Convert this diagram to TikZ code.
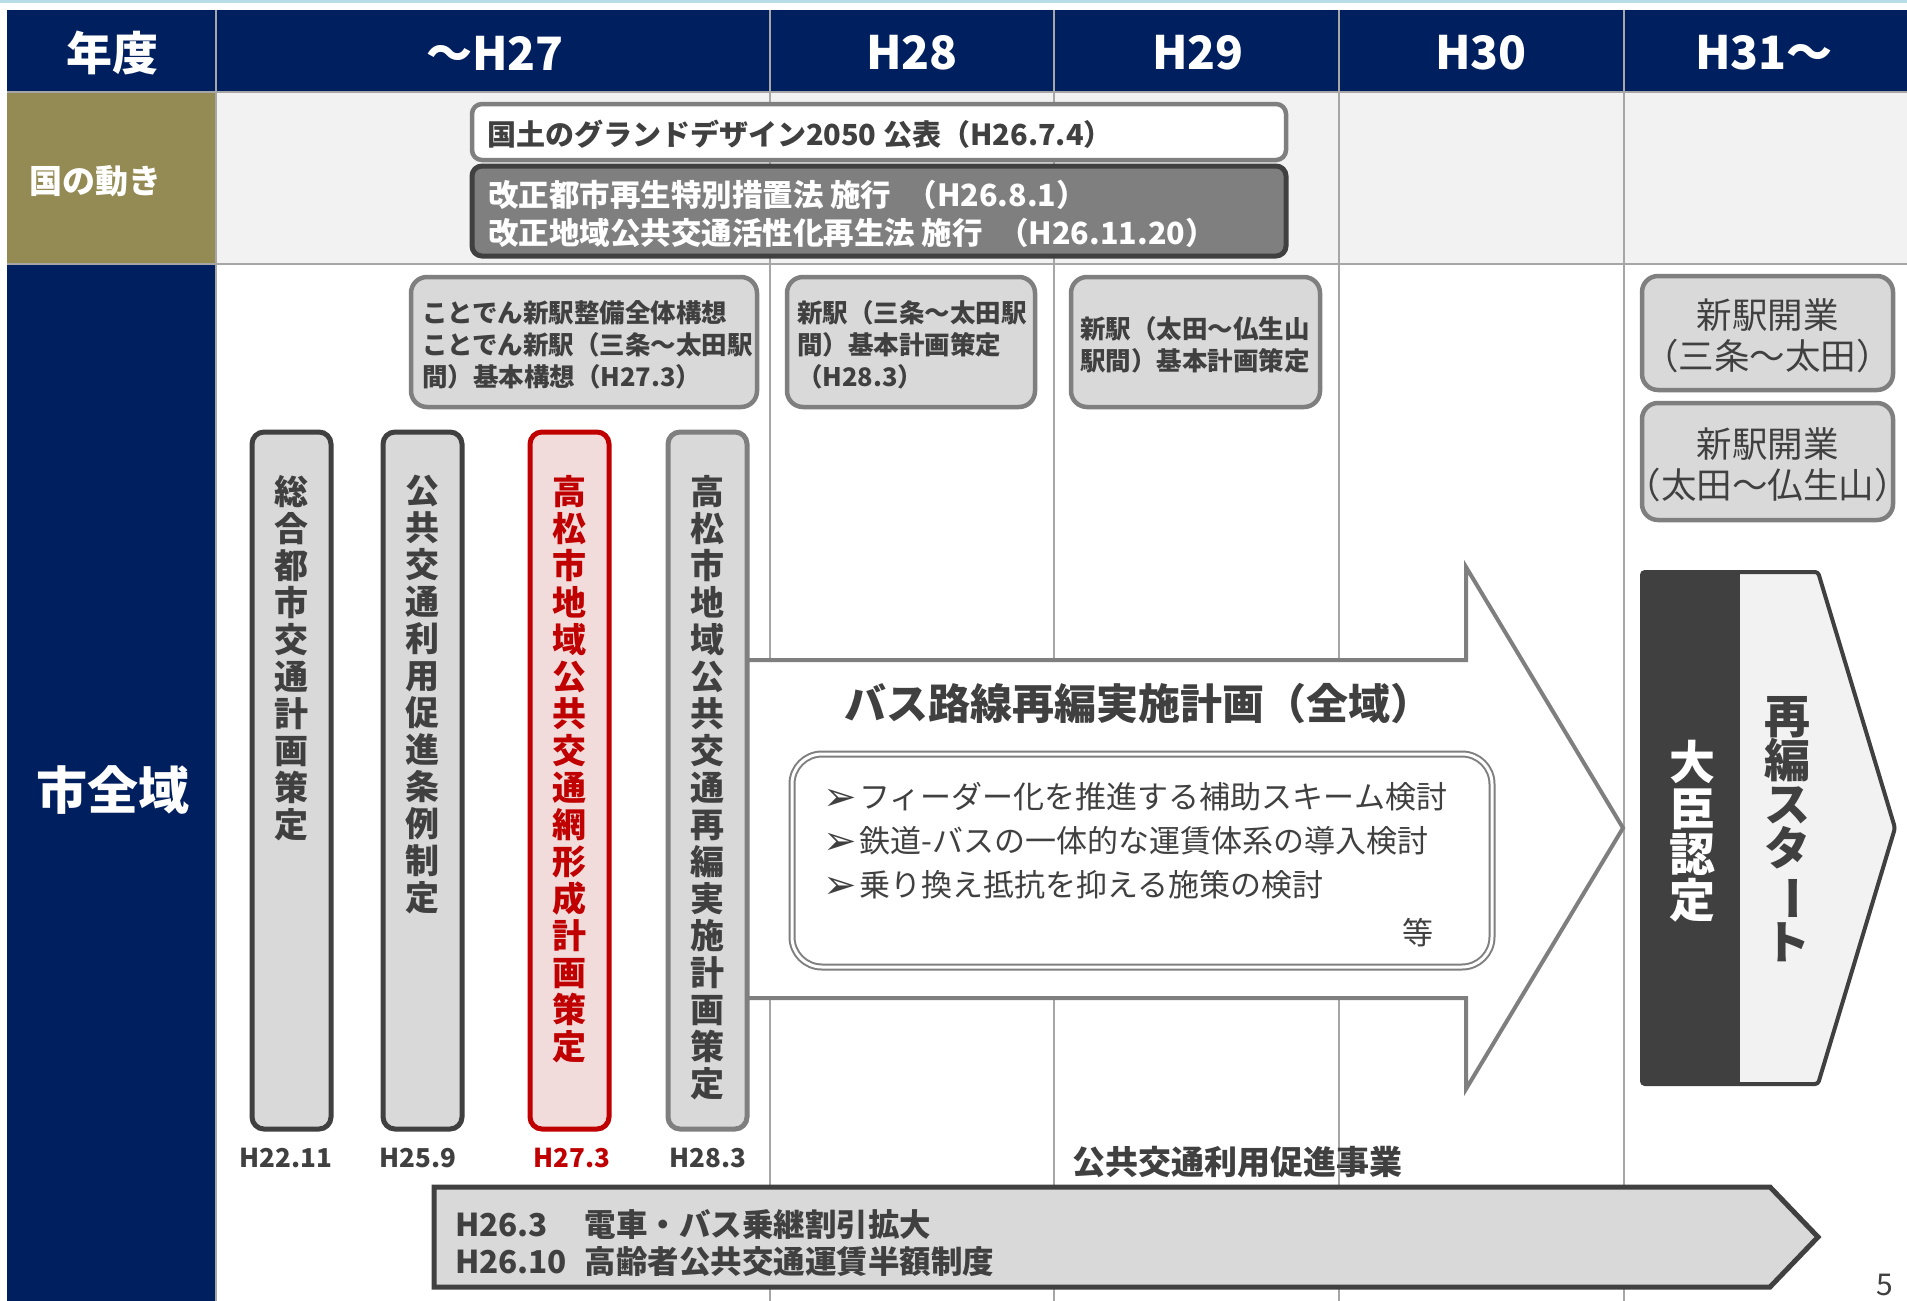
\documentclass[tikz,border=0pt]{standalone}
\usepackage{fontspec}
\setmainfont{Noto Sans CJK JP}
\newfontfamily\bulfont{DejaVu Sans}
\definecolor{navy}{HTML}{001F5E}
\definecolor{olivec}{HTML}{948A54}
\definecolor{bgg}{HTML}{F2F2F2}
\definecolor{gridc}{HTML}{A6A6A6}
\definecolor{boxg}{HTML}{D9D9D9}
\definecolor{midg}{HTML}{7F7F7F}
\definecolor{dk}{HTML}{404040}
\definecolor{redc}{HTML}{C00000}
\definecolor{pinkc}{HTML}{F2DCDB}
\definecolor{topblue}{HTML}{B7DEE8}
\newcommand\myfs[2]{\fontsize{#1}{#2}\selectfont}
\newcommand\mybul{{\bulfont\myfs{40}{44}\raisebox{-2pt}{➢}}\hspace{3pt}}
\tikzset{
 gridline/.style={draw=gridc, line width=2pt},
 hdr/.style={text=white, font=\bfseries\myfs{46}{50}},
 greybox/.style={draw=midg, fill=boxg, line width=4.5pt, rounded corners=16pt},
 boxtext/.style={text=dk, font=\bfseries\myfs{25.5}{32}, align=left},
 bar/.style={fill=boxg, line width=5pt, rounded corners=12pt, minimum width=79pt, minimum height=697pt},
 vtext/.style={font=\bfseries\myfs{34}{37}, align=center, anchor=north},
 blabel/.style={font=\bfseries\myfs{26}{30}, text=dk},
}
\begin{document}
\begin{tikzpicture}[x=1pt,y=-1pt, every node/.style={inner sep=0pt, outer sep=0pt}]
\useasboundingbox (0,0) rectangle (1907,1301);
\fill[white] (0,0) rectangle (1907,1301);
\fill[topblue] (0,0) rectangle (1907,3);
% backgrounds
\fill[navy] (7,10) rectangle (1907,91);
\fill[bgg] (216,93) rectangle (1907,263);
\fill[olivec] (7,93) rectangle (216,263);
\fill[navy] (7,265) rectangle (216,1301);
% grid
\foreach \x in {216,770,1054,1339,1624} \draw[gridline] (\x,10) -- (\x,1301);
\draw[gridline] (7,92) -- (1907,92);
\draw[gridline] (7,264) -- (1907,264);
% header
\node[hdr] (h0) at (112,53) {年度};
\node[hdr] (h1) at (495,53) {～H27};
\node[hdr] (h2) at (912,53) {H28};
\node[hdr] (h3) at (1198,53) {H29};
\node[hdr] (h4) at (1481,53) {H30};
\node[hdr] (h5) at (1764,53) {H31～};
\node[text=white, font=\bfseries\myfs{33}{36}] (kuni) at (95,181) {国の動き};
\node[text=white, font=\bfseries\myfs{51}{54}] (shi) at (113,790) {市全域};
% national boxes
\node[draw=midg, fill=white, line width=4.5pt, rounded corners=10pt, minimum width=814pt, minimum height=56pt] (nb1) at (879,132) {};
\node[text=dk, font=\bfseries\myfs{29}{34}, anchor=west] (nb1t) at (487,134) {国土のグランドデザイン2050 公表（H26.7.4）};
\node[draw=dk, fill=midg, line width=5pt, rounded corners=10pt, minimum width=814pt, minimum height=90pt] (nb2) at (879,211) {};
\node[text=white, font=\bfseries\myfs{30.5}{38}, align=left, anchor=west] (nb2t) at (488,214) {改正都市再生特別措置法 施行\hspace{0.5em}（H26.8.1）\\改正地域公共交通活性化再生法 施行\hspace{0.5em}（H26.11.20）};
% middle boxes
\node[greybox, minimum width=346pt, minimum height=130pt] (m1) at (584,342) {};
\node[boxtext, anchor=west] (m1t) at (422,345) {ことでん新駅整備全体構想\\ことでん新駅（三条～太田駅\\間）基本構想（H27.3）};
\node[greybox, minimum width=248pt, minimum height=130pt] (m2) at (911,342) {};
\node[boxtext, anchor=west] (m2t) at (797,345) {新駅（三条～太田駅\\間）基本計画策定\\（H28.3）};
\node[greybox, minimum width=249pt, minimum height=130pt] (m3) at (1195.5,342) {};
\node[boxtext, anchor=west] (m3t) at (1080,345) {新駅（太田～仏生山\\駅間）基本計画策定};
\node[greybox, minimum width=251pt, minimum height=114pt] (r1) at (1767.5,333) {};
\node[text=dk, font=\myfs{35.5}{41}, align=center] (r1t) at (1767.5,336) {新駅開業\\（三条～太田）};
\node[greybox, minimum width=251pt, minimum height=117pt] (r2) at (1767.5,461.5) {};
\node[text=dk, font=\myfs{35.5}{41}, align=center] (r2t) at (1767.5,465) {新駅開業\\（太田～仏生山）};
% big arrow
\draw[draw=midg, fill=white, line width=4pt, line join=miter] (740,660) -- (1466,660) -- (1466,567) -- (1623,828) -- (1466,1089) -- (1466,998) -- (740,998) -- cycle;
\node[text=dk, font=\bfseries\myfs{42}{46}] (title) at (1138,704) {バス路線再編実施計画（全域）};
\node[draw=midg, double=white, double distance=3pt, line width=2pt, rounded corners=30pt, minimum width=700pt, minimum height=213pt] (inner) at (1142,860.5) {};
\node[text=dk, font=\myfs{31}{44}, align=left, anchor=west] (items) at (823,841) {\mybul フィーダー化を推進する補助スキーム検討\\\mybul 鉄道-バスの一体的な運賃体系の導入検討\\\mybul 乗り換え抵抗を抑える施策の検討};
\node[text=dk, font=\myfs{31}{44}] (etc) at (1418,933) {等};
% bars
\node[bar, draw=dk] (b1) at (291.5,780.5) {};
\node[bar, draw=dk] (b2) at (422.5,780.5) {};
\node[bar, draw=redc, fill=pinkc] (b3) at (569.5,780.5) {};
\node[bar, draw=midg] (b4) at (707.5,780.5) {};
\node[vtext, text=dk] (b1t) at (291.5,475) {総\\合\\都\\市\\交\\通\\計\\画\\策\\定};
\node[vtext, text=dk] (b2t) at (422.5,475) {公\\共\\交\\通\\利\\用\\促\\進\\条\\例\\制\\定};
\node[vtext, text=redc] (b3t) at (569.5,475) {高\\松\\市\\地\\域\\公\\共\\交\\通\\網\\形\\成\\計\\画\\策\\定};
\node[vtext, text=dk] (b4t) at (707.5,475) {高\\松\\市\\地\\域\\公\\共\\交\\通\\再\\編\\実\\施\\計\\画\\策\\定};
\node[blabel] (l1) at (286,1158) {H22.11};
\node[blabel] (l2) at (418,1158) {H25.9};
\node[blabel, text=redc] (l3) at (572,1158) {H27.3};
\node[blabel] (l4) at (708,1158) {H28.3};
% right block
\fill[bgg] (1740,572) -- (1818,572) -- (1895,828) -- (1818,1084) -- (1740,1084) -- cycle;
\fill[dk] (1642,572) rectangle (1740,1084);
\draw[dk, line width=4pt, rounded corners=3pt] (1642,572) -- (1818,572) -- (1895,828) -- (1818,1084) -- (1642,1084) -- cycle;
\node[text=white, font=\bfseries\myfs{46}{46}, align=center] (daijin) at (1692,831) {大\\臣\\認\\定};
\node[text=dk, font=\bfseries\myfs{46}{44}, align=center] (saihen) at (1787,829) {再\\編\\ス\\タ\\\rotatebox[origin=c]{-90}{ー}\\ト};
% bottom arrow
\node[text=dk, font=\bfseries\myfs{33}{36}] (jigyo) at (1237,1162) {公共交通利用促進事業};
\draw[draw=dk, fill=boxg, line width=5pt] (434,1187) -- (1770,1187) -- (1818,1237) -- (1770,1287) -- (434,1287) -- cycle;
\node[text=dk, font=\bfseries\myfs{31.5}{37}, align=left, anchor=west] (bt) at (455,1243) {\makebox[130pt][l]{H26.3}電車・バス乗継割引拡大\\\makebox[130pt][l]{H26.10}高齢者公共交通運賃半額制度};
\node[text=dk, font=\myfs{30}{34}] (pg) at (1885,1285) {5};
\end{tikzpicture}
\end{document}
